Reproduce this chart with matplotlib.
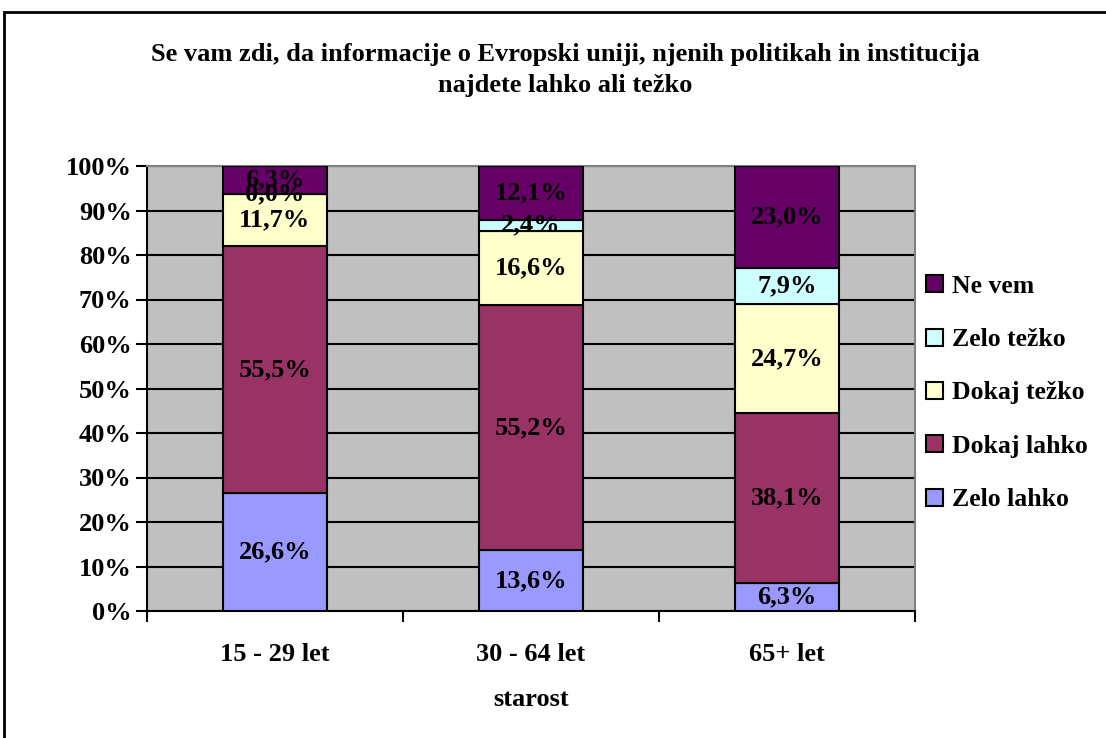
import numpy as np
import matplotlib.pyplot as plt
from matplotlib.patches import Rectangle, Patch

plt.rcParams['font.family'] = ['Liberation Serif', 'DejaVu Serif']
plt.rcParams['font.weight'] = 'bold'

# data
groups = ['15 - 29 let', '30 - 64 let', '65+ let']
series = ['Zelo lahko', 'Dokaj lahko', 'Dokaj težko', 'Zelo težko', 'Ne vem']
zelo_lahko = [26.6, 13.6, 6.3]
dokaj_lahko = [55.5, 55.2, 38.1]
dokaj_tezko = [11.7, 16.6, 24.7]
zelo_tezko = [0.0, 2.4, 7.9]
ne_vem = [6.3, 12.1, 23.0]
colors = ['#9999FF', '#993366', '#FFFFCC', '#CCFFFF', '#660066']

values = np.array([zelo_lahko, dokaj_lahko, dokaj_tezko, zelo_tezko, ne_vem])
shares = values / values.sum(axis=0) * 100

fig = plt.figure(figsize=(11.06, 7.38), dpi=100)
ax = fig.add_axes([147/1106, 127/738, 768/1106, 445/738])
ax.set_facecolor('#C0C0C0')

x = np.arange(len(groups))
bottom = np.zeros(len(groups))
for i in range(len(series)):
    ax.bar(x, shares[i], 0.405, bottom=bottom, color=colors[i],
           edgecolor='black', linewidth=1.5, zorder=3)
    for j in range(len(groups)):
        ax.text(x[j], bottom[j] + shares[i][j] / 2,
                ('%.1f%%' % values[i][j]).replace('.', ','),
                ha='center', va='center', fontsize=19, fontweight='bold', zorder=4)
    bottom += shares[i]

ax.set_xlim(-0.5, 2.5)
ax.set_ylim(0, 100)
ax.set_yticks(np.arange(0, 101, 10))
ax.set_yticklabels(['%d%%' % v for v in range(0, 101, 10)], fontsize=19)
ax.yaxis.grid(True, color='black', linewidth=1.5, zorder=1)
ax.set_xticks(x)
ax.set_xticklabels(groups, fontsize=19)
ax.set_xticks([0.5, 1.5, 2.5, -0.5], minor=True)
ax.tick_params(axis='x', which='major', length=0, pad=23)
ax.tick_params(axis='x', which='minor', length=8, width=1.5)
ax.tick_params(axis='y', length=8, width=1.5, pad=3)
for s in ['top', 'right']:
    ax.spines[s].set_color('#808080')
    ax.spines[s].set_linewidth(1.5)
ax.spines['left'].set_linewidth(1.5)
ax.spines['bottom'].set_linewidth(1.5)
ax.set_xlabel('starost', fontsize=19, fontweight='bold', labelpad=16)

fig.suptitle('Se vam zdi, da informacije o Evropski uniji, njenih politikah in institucija\nnajdete lahko ali težko',
             x=565/1106, y=1 - 70/738, fontsize=19, fontweight='bold', va='center', linespacing=1.45)

handles = [Patch(facecolor=colors[i], edgecolor='black', linewidth=1.5) for i in range(len(series))][::-1]
leg = fig.legend(handles, series[::-1], loc='center left', bbox_to_anchor=(926/1106, 1 - 393/738),
                 frameon=False, fontsize=18.5, handlelength=0.65, handleheight=0.65,
                 handletextpad=0.35, labelspacing=1.18, borderpad=0, borderaxespad=0)

fig.patches.append(Rectangle((4/1106, -0.01), 1.1, 1 - 12/738 + 0.01, transform=fig.transFigure,
                             fill=False, edgecolor='black', linewidth=2))

fig.savefig('out.png', dpi=100)
